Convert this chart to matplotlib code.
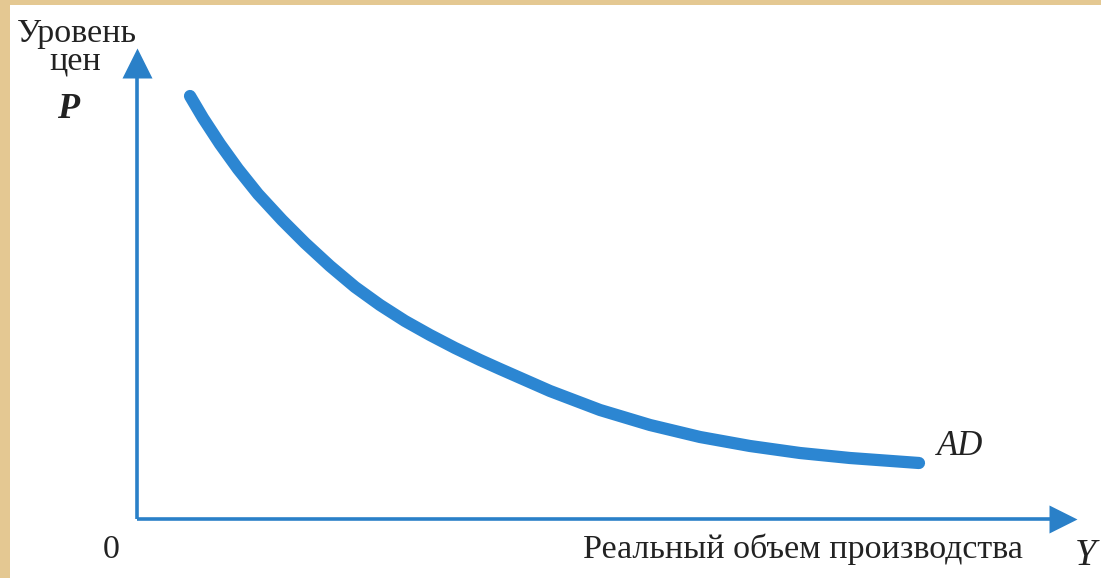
#!/usr/bin/env python3
"""Aggregate demand curve AD: price level P against real output Y."""
import matplotlib

matplotlib.use("Agg")
import matplotlib.pyplot as plt
from matplotlib.patches import Rectangle

# curve values (output Y, price level P), arbitrary units
output_y = [53, 66, 83, 101, 121, 145, 168, 193, 218, 243, 268, 293, 318, 343,
            363, 413, 463, 513, 563, 613, 663, 713, 782]
price_p = [423, 401, 375, 350, 325, 299, 276, 253, 232, 214, 198, 184, 171, 159,
           150, 128, 109, 94, 82, 73, 66, 61, 56]

curve_label = "AD"
y_axis_label = ["Уровень", "цен"]
y_axis_symbol = "P"
x_axis_label = "Реальный объем производства"
x_axis_symbol = "Y"
origin_label = "0"

BLUE = "#2c86d2"
AXIS_BLUE = "#2a80c8"
BEIGE = "#e4c892"
INK = "#222222"
SERIF = ["Liberation Serif", "DejaVu Serif"]

W, H = 1101, 578
X0, Y0 = 137, 519  # pixel position of the origin

fig = plt.figure(figsize=(W / 100, H / 100), dpi=100, facecolor=BEIGE)
fig.patches.append(Rectangle((10 / W, 0), 1 - 10 / W, 1 - 5 / H, transform=fig.transFigure,
                             facecolor="white", edgecolor="none", zorder=-10))
ax = fig.add_axes([0, 0, 1, 1])
ax.set_xlim(-X0, W - X0)
ax.set_ylim(-(H - Y0), Y0)
ax.axis("off")
ax.patch.set_alpha(0)

# axes with arrowheads
y_top, x_right = 456, 926
ax.plot([0, 0], [0, y_top], color=AXIS_BLUE, lw=2.6, solid_capstyle="butt")
ax.plot([0, x_right], [0, 0], color=AXIS_BLUE, lw=2.6, solid_capstyle="butt")
ax.plot([0], [y_top], marker="^", ms=22, color=AXIS_BLUE, mec="none")
ax.plot([x_right], [0], marker=">", ms=20, color=AXIS_BLUE, mec="none")

# AD curve
ax.plot(output_y, price_p, color=BLUE, lw=8.8, solid_capstyle="round", solid_joinstyle="round")

fs = 24.5
ax.text(-120, 477, y_axis_label[0], fontsize=fs, family=SERIF, va="baseline", ha="left", color=INK)
ax.text(-62, 449, y_axis_label[1], fontsize=fs, family=SERIF, va="baseline", ha="center", color=INK)
ax.text(-80, 401, y_axis_symbol, fontsize=26, family=SERIF, style="italic", weight="bold",
        va="baseline", ha="left", color=INK)
ax.text(-26, -39, origin_label, fontsize=fs, family=SERIF, va="baseline", ha="center", color=INK)
ax.text(446, -39, x_axis_label, fontsize=fs, family=SERIF, va="baseline", ha="left", color=INK)
ax.text(938, -46, x_axis_symbol, fontsize=27.5, family=SERIF, style="italic",
        va="baseline", ha="left", color=INK)
ax.text(800, 64, curve_label, fontsize=25, family=SERIF, style="italic",
        va="baseline", ha="left", color=INK)

fig.savefig("out.png", dpi=100, facecolor=fig.get_facecolor())
